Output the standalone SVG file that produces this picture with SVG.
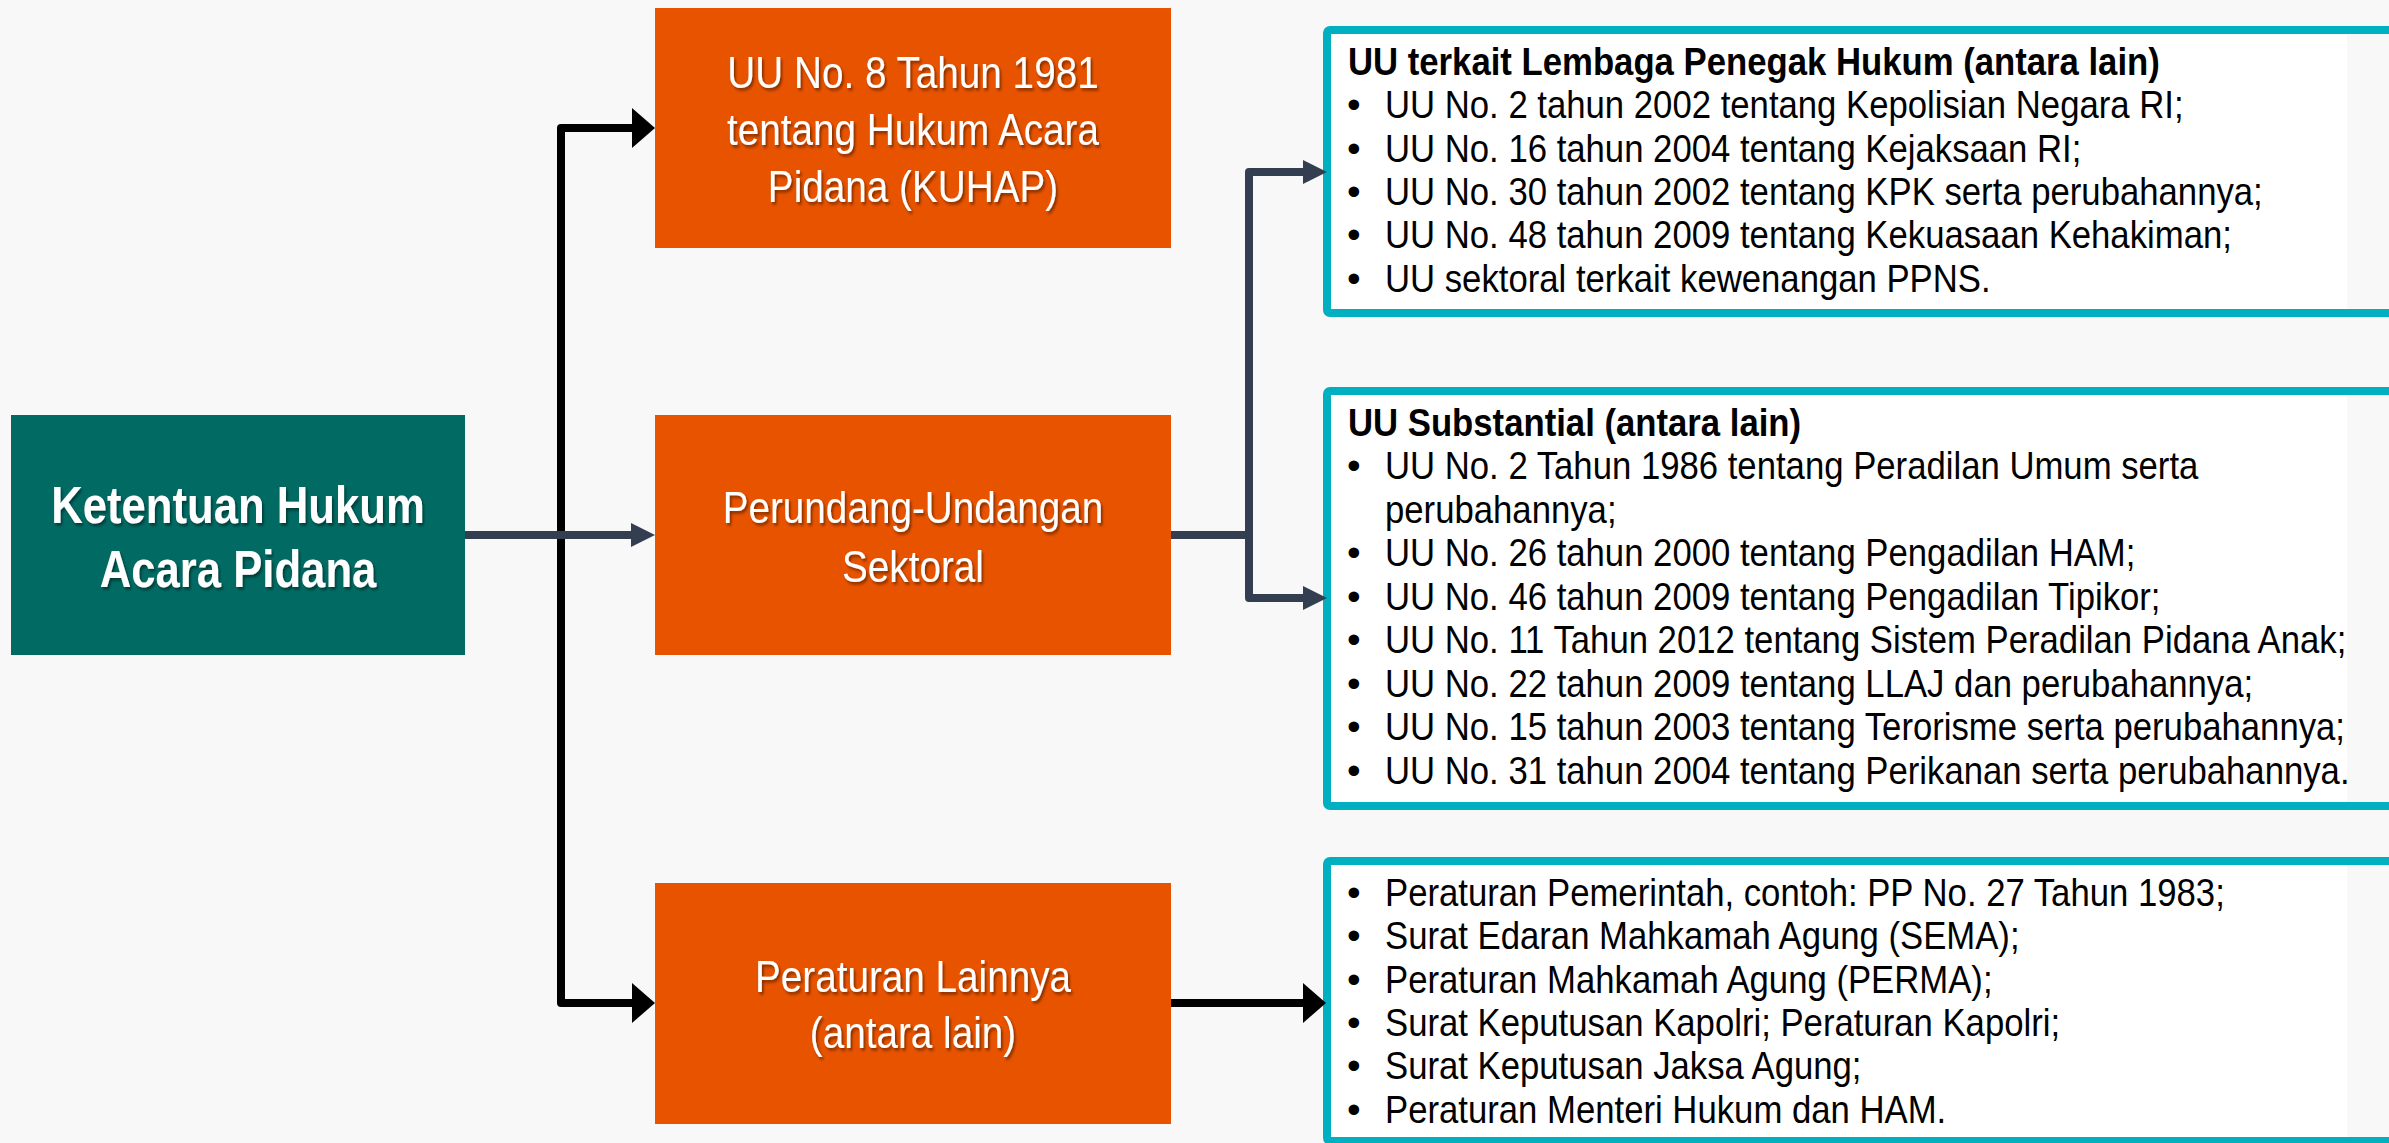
<svg xmlns="http://www.w3.org/2000/svg" width="2389" height="1143" viewBox="0 0 2389 1143">
  <defs>
    <filter id="shadow" x="-10%" y="-30%" width="120%" height="160%">
      <feDropShadow dx="2" dy="2.5" stdDeviation="1.5" flood-color="#000" flood-opacity="0.45"/>
    </filter>
    <style>
      .bg { fill: #F8F8F8; }
      .teal { fill: #016B63; }
      .orange { fill: #E85300; }
      .panelfill { fill: #FFFFFF; }
      .panel { fill: none; stroke: #00B0C0; stroke-width: 8; }
      .wt { font-family: "Liberation Sans", Arial, sans-serif; fill: #FFFFFF; text-anchor: middle; filter: url(#shadow); }
      .wt-b { font-size: 52px; font-weight: bold; }
      .wt-r { font-size: 45px; }
      .bt { font-family: "Liberation Sans", Arial, sans-serif; font-size: 39px; fill: #000000; }
      .bh { font-weight: bold; }
      .blk { fill: none; stroke: #000000; stroke-width: 8; stroke-linejoin: round; }
      .slt { fill: none; stroke: #333F50; stroke-width: 8; stroke-linejoin: round; }
      .blkhead { fill: #000000; }
      .slthead { fill: #333F50; }
    </style>
  </defs>

  <rect class="bg" x="0" y="0" width="2389" height="1143"/>

  <!-- Nodes -->
  <g id="node-ketentuan">
    <rect class="teal" x="11" y="415" width="454" height="240"/>
    <g transform="matrix(0.84 0 0 1 238 0)">
      <text class="wt wt-b" x="0" y="523">Ketentuan Hukum</text>
      <text class="wt wt-b" x="0" y="587">Acara Pidana</text>
    </g>
  </g>

  <g id="node-kuhap">
    <rect class="orange" x="655" y="8" width="516" height="240"/>
    <g transform="matrix(0.86 0 0 1 913 0)">
      <text class="wt wt-r" x="0" y="88">UU No. 8 Tahun 1981</text>
      <text class="wt wt-r" x="0" y="145">tentang Hukum Acara</text>
      <text class="wt wt-r" x="0" y="202">Pidana (KUHAP)</text>
    </g>
  </g>

  <g id="node-sektoral">
    <rect class="orange" x="655" y="415" width="516" height="240"/>
    <g transform="matrix(0.86 0 0 1 913 0)">
      <text class="wt wt-r" x="0" y="523">Perundang-Undangan</text>
      <text class="wt wt-r" x="0" y="582">Sektoral</text>
    </g>
  </g>

  <g id="node-lainnya">
    <rect class="orange" x="655" y="883" width="516" height="241"/>
    <g transform="matrix(0.86 0 0 1 913 0)">
      <text class="wt wt-r" x="0" y="992">Peraturan Lainnya</text>
      <text class="wt wt-r" x="0" y="1048">(antara lain)</text>
    </g>
  </g>

  <g id="node-uu-lembaga">
    <rect class="panelfill" x="1331" y="34" width="1016" height="275"/>
    <rect class="panel" x="1327" y="30" width="1120" height="283" rx="3"/>
    <g transform="matrix(0.89 0 0 1 1348 0)">
      <text class="bt bh" x="0" y="75">UU terkait Lembaga Penegak Hukum (antara lain)</text>
    </g>
    <g class="bt">
      <text x="1347" y="118">•</text>
      <text x="1347" y="162">•</text>
      <text x="1347" y="205">•</text>
      <text x="1347" y="248">•</text>
      <text x="1347" y="292">•</text>
    </g>
    <g transform="matrix(0.89 0 0 1 1385 0)">
      <text class="bt" x="0" y="118">UU No. 2 tahun 2002 tentang Kepolisian Negara RI;</text>
      <text class="bt" x="0" y="162">UU No. 16 tahun 2004 tentang Kejaksaan RI;</text>
      <text class="bt" x="0" y="205">UU No. 30 tahun 2002 tentang KPK serta perubahannya;</text>
      <text class="bt" x="0" y="248">UU No. 48 tahun 2009 tentang Kekuasaan Kehakiman;</text>
      <text class="bt" x="0" y="292">UU sektoral terkait kewenangan PPNS.</text>
    </g>
  </g>

  <g id="node-uu-substantial">
    <rect class="panelfill" x="1331" y="395" width="1016" height="407"/>
    <rect class="panel" x="1327" y="391" width="1120" height="415" rx="3"/>
    <g transform="matrix(0.89 0 0 1 1348 0)">
      <text class="bt bh" x="0" y="436">UU Substantial (antara lain)</text>
    </g>
    <g class="bt">
      <text x="1347" y="479">•</text>
      <text x="1347" y="566">•</text>
      <text x="1347" y="610">•</text>
      <text x="1347" y="653">•</text>
      <text x="1347" y="697">•</text>
      <text x="1347" y="740">•</text>
      <text x="1347" y="784">•</text>
    </g>
    <g transform="matrix(0.89 0 0 1 1385 0)">
      <text class="bt" x="0" y="479">UU No. 2 Tahun 1986 tentang Peradilan Umum serta</text>
      <text class="bt" x="0" y="523">perubahannya;</text>
      <text class="bt" x="0" y="566">UU No. 26 tahun 2000 tentang Pengadilan HAM;</text>
      <text class="bt" x="0" y="610">UU No. 46 tahun 2009 tentang Pengadilan Tipikor;</text>
      <text class="bt" x="0" y="653">UU No. 11 Tahun 2012 tentang Sistem Peradilan Pidana Anak;</text>
      <text class="bt" x="0" y="697">UU No. 22 tahun 2009 tentang LLAJ dan perubahannya;</text>
      <text class="bt" x="0" y="740">UU No. 15 tahun 2003 tentang Terorisme serta perubahannya;</text>
      <text class="bt" x="0" y="784">UU No. 31 tahun 2004 tentang Perikanan serta perubahannya.</text>
    </g>
  </g>

  <g id="node-peraturan-lain">
    <rect class="panelfill" x="1331" y="865" width="1016" height="272"/>
    <rect class="panel" x="1327" y="861" width="1120" height="280" rx="3"/>
    <g class="bt">
      <text x="1347" y="906">•</text>
      <text x="1347" y="949">•</text>
      <text x="1347" y="993">•</text>
      <text x="1347" y="1036">•</text>
      <text x="1347" y="1079">•</text>
      <text x="1347" y="1123">•</text>
    </g>
    <g transform="matrix(0.89 0 0 1 1385 0)">
      <text class="bt" x="0" y="906">Peraturan Pemerintah, contoh: PP No. 27 Tahun 1983;</text>
      <text class="bt" x="0" y="949">Surat Edaran Mahkamah Agung (SEMA);</text>
      <text class="bt" x="0" y="993">Peraturan Mahkamah Agung (PERMA);</text>
      <text class="bt" x="0" y="1036">Surat Keputusan Kapolri; Peraturan Kapolri;</text>
      <text class="bt" x="0" y="1079">Surat Keputusan Jaksa Agung;</text>
      <text class="bt" x="0" y="1123">Peraturan Menteri Hukum dan HAM.</text>
    </g>
  </g>

  <!-- Connectors -->
  <g id="connectors">
    <path class="blk" d="M633,128 H561 V1003 H633"/>
    <polygon class="blkhead" points="632,108 655,128 632,148"/>
    <polygon class="blkhead" points="632,983 655,1003 632,1023"/>
    <path class="blk" d="M1171,1003 H1304"/>
    <polygon class="blkhead" points="1303,983 1326,1003 1303,1023"/>

    <path class="slt" d="M465,535 H633"/>
    <polygon class="slthead" points="631,523 655,535 631,547"/>
    <path class="slt" d="M1171,535 H1249"/>
    <path class="slt" d="M1305,172 H1249 V598 H1305"/>
    <polygon class="slthead" points="1303,160 1327,172 1303,184"/>
    <polygon class="slthead" points="1303,586 1327,598 1303,610"/>
  </g>
</svg>
